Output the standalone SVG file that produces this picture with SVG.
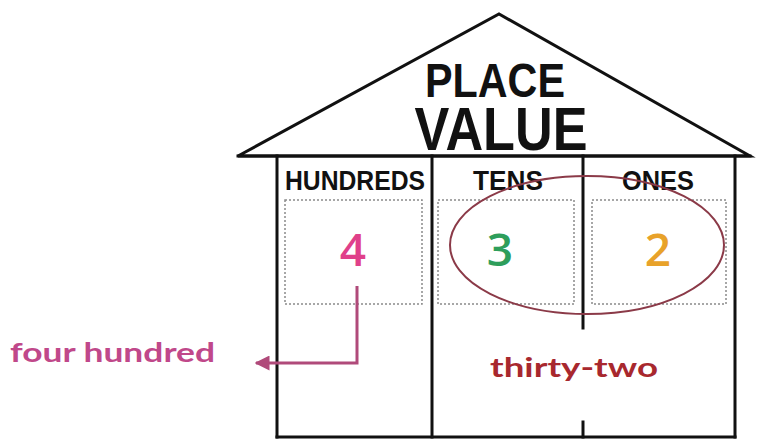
<svg xmlns="http://www.w3.org/2000/svg" width="767" height="441" viewBox="0 0 767 441">
<defs>
<style>
.wall{stroke:#111;stroke-width:3;fill:none;stroke-linecap:square}
.box{stroke:#8a8a8a;stroke-width:1.5;fill:none;stroke-dasharray:2 2}
.head{font-family:"Liberation Sans",Arial,sans-serif;font-weight:bold;fill:#111}
.num{font-family:"Open Sans","Liberation Sans",sans-serif;font-weight:600;font-size:46px;text-anchor:middle}
.lbl{font-family:"Lato","Open Sans",sans-serif;font-weight:bold;font-size:26px}
</style>
<marker id="arr" viewBox="0 0 10 10" refX="9" refY="5" markerWidth="5" markerHeight="5" orient="auto-start-reverse">
<path d="M0,0 L10,5 L0,10 z" fill="#b04a7a"/>
</marker>
</defs>
<rect width="767" height="441" fill="#fff"/>
<g id="house">
<polygon class="wall" points="238,156 499,14 750,156" stroke-linejoin="miter"/>
<line class="wall" x1="238" y1="156" x2="750" y2="156"/>
<line class="wall" x1="277" y1="156" x2="277" y2="437"/>
<line class="wall" x1="735" y1="156" x2="735" y2="437"/>
<line class="wall" x1="277" y1="437" x2="735" y2="437"/>
<line class="wall" x1="432" y1="156" x2="432" y2="437"/>
<line class="wall" x1="583" y1="156" x2="583" y2="328"/>
<line class="wall" x1="583" y1="422" x2="583" y2="437"/>
</g>
<g id="title">
<text class="head" x="495" y="97" font-size="48" text-anchor="middle" textLength="140" lengthAdjust="spacingAndGlyphs">PLACE</text>
<text class="head" x="501" y="150" font-size="62" text-anchor="middle" textLength="173" lengthAdjust="spacingAndGlyphs">VALUE</text>
</g>
<g id="hundreds">
<text class="head" x="355" y="190" font-size="27" text-anchor="middle" textLength="140" lengthAdjust="spacingAndGlyphs">HUNDREDS</text>
<rect class="box" x="285" y="200" width="137" height="104"/>
<text class="num" x="353" y="266" fill="#e0408a">4</text>
</g>
<g id="tens">
<text class="head" x="508" y="190" font-size="27" text-anchor="middle" textLength="70" lengthAdjust="spacingAndGlyphs">TENS</text>
<rect class="box" x="438" y="200" width="136" height="104"/>
<text class="num" x="500" y="266" fill="#2e9e5b">3</text>
</g>
<g id="ones">
<text class="head" x="658" y="190" font-size="27" text-anchor="middle" textLength="72" lengthAdjust="spacingAndGlyphs">ONES</text>
<rect class="box" x="592" y="200" width="134" height="104"/>
<text class="num" x="658" y="266" fill="#e8a22a">2</text>
</g>
<g id="connectors">
<ellipse cx="587" cy="245" rx="137" ry="69" fill="none" stroke="#8b3a48" stroke-width="2"/>
<polyline points="357,286 357,363 256,363" fill="none" stroke="#b04a7a" stroke-width="3" marker-end="url(#arr)"/>
</g>
<g id="four-hundred">
<text class="lbl" x="10" y="362" fill="#c0488a" textLength="205" lengthAdjust="spacingAndGlyphs">four hundred</text>
</g>
<g id="thirty-two">
<text class="lbl" x="490" y="377" fill="#a8282e" textLength="168" lengthAdjust="spacingAndGlyphs">thirty-two</text>
</g>
</svg>
